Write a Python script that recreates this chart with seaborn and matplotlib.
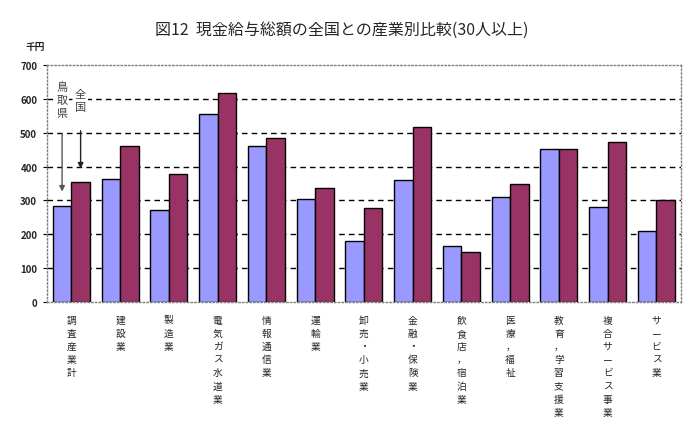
import matplotlib
matplotlib.use("Agg")
import matplotlib.pyplot as plt
import seaborn as sns
import pandas as pd

industries = ["調査産業計", "建設業", "製造業", "電気ガス水道業", "情報通信業", "運輸業",
              "卸売・小売業", "金融・保険業", "飲食店，宿泊業", "医療，福祉",
              "教育，学習支援業", "複合サービス事業", "サービス業"]
tottori = [285, 363, 272, 555, 461, 304, 180, 360, 165, 310, 451, 280, 210]
national = [353, 462, 377, 617, 484, 338, 279, 516, 148, 348, 451, 472, 301]
regions = ["鳥取県", "全国"]
colors = ["#9999FF", "#993366"]

sns.set_theme(style="white")
plt.rcParams["font.family"] = ["Noto Sans CJK JP", "DejaVu Sans"]

df = pd.DataFrame({
    "industry": industries * 2,
    "region": [regions[0]] * len(industries) + [regions[1]] * len(industries),
    "value": tottori + national,
})

fig = plt.figure(figsize=(6.99, 4.35), dpi=100)
ax = fig.add_axes([0.0672, 0.3034, 0.9068, 0.5449])

sns.barplot(data=df, x="industry", y="value", hue="region", order=industries,
            hue_order=regions, palette=colors, width=0.76, edgecolor="black",
            linewidth=1, saturation=1, legend=False, ax=ax)

ax.set_ylim(0, 700)
ax.set_yticks(range(0, 701, 100))
ax.set_xlim(-0.5, len(industries) - 0.5)
ax.set_xlabel("")
ax.set_ylabel("")

# dashed grid, skipping the lines at 0 and 700
ax.set_axisbelow(True)
ax.yaxis.grid(True, color="black", linestyle=(0, (4, 3)), linewidth=1)
glines = ax.get_ygridlines()
glines[0].set_visible(False)
glines[-1].set_visible(False)

for s in ax.spines.values():
    s.set_color("#808080")
    s.set_linestyle(":")
    s.set_linewidth(1)

ax.tick_params(axis="y", left=True, length=3, width=0.8, color="black",
               labelsize=7, pad=4)
ax.tick_params(axis="x", bottom=False, pad=3)
for lab in ax.get_yticklabels():
    lab.set_fontweight("bold")

ax.set_xticks(range(len(industries)))
ax.set_xticklabels(["\n".join(name) for name in industries], fontsize=7,
                   linespacing=1.4, va="top")

# vertical annotations with arrows
box = dict(facecolor="white", edgecolor="none", pad=1)
ax.text(-0.19, 652, "\n".join(regions[0]), ha="center", va="top", fontsize=8,
        color="#404040", linespacing=1.35, bbox=box)
ax.text(0.19, 628, "\n".join(regions[1]), ha="center", va="top", fontsize=8,
        color="#404040", linespacing=1.35, bbox=box)
ax.annotate("", xy=(-0.19, 318), xytext=(-0.19, 506),
            arrowprops=dict(arrowstyle="-|>", color="#555555", lw=1,
                            mutation_scale=8))
ax.annotate("", xy=(0.19, 386), xytext=(0.19, 514),
            arrowprops=dict(arrowstyle="-|>", color="#222222", lw=1,
                            mutation_scale=8))

fig.text(0.489, 0.931, "図12  現金給与総額の全国との産業別比較(30人以上)",
         ha="center", va="center", fontsize=11.5)
fig.text(0.036, 0.892, "千円", ha="left", va="center", fontsize=7,
         fontweight="bold")

fig.savefig("out.png", dpi=100)
